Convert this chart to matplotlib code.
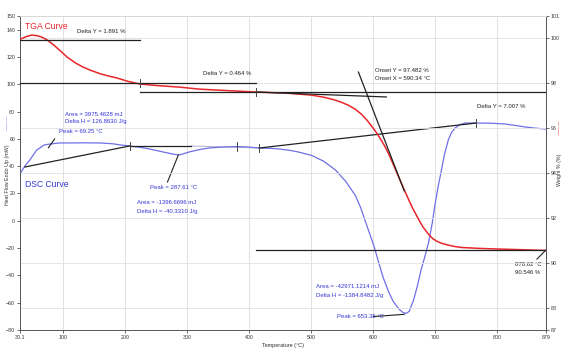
import matplotlib
matplotlib.use("Agg")
import matplotlib.pyplot as plt
from matplotlib import font_manager

names = {f.name for f in font_manager.fontManager.ttflist}
FAM = ['Liberation Sans Narrow', 'Liberation Sans'] if 'Liberation Sans Narrow' in names else ['Liberation Sans']

# ---------------- data ----------------
tga_T = [31, 40, 49, 58, 66, 74, 84, 95, 106, 120, 132, 143, 160, 175, 186, 205, 223,
         250, 287, 319, 360, 411, 460, 501, 520, 536, 548, 560, 571, 581, 590, 597, 605,
         612, 618, 624, 632, 640, 648.5, 656.6, 664, 672.6, 680, 688.7, 696, 703,
         710, 720, 732, 742, 770, 801, 840, 878.6]
tga_W = [99.97, 100.08, 100.15, 100.12, 100.05, 99.93, 99.72, 99.45, 99.17, 98.9, 98.72,
         98.59, 98.42, 98.31, 98.24, 98.08, 97.97, 97.9, 97.83, 97.74, 97.68, 97.61,
         97.56, 97.47, 97.38, 97.27, 97.16, 97.02, 96.84, 96.62, 96.35, 96.1, 95.8,
         95.5, 95.22, 94.9, 94.4, 93.88, 93.34, 92.84, 92.4, 91.96, 91.6, 91.28, 91.07,
         90.95, 90.87, 90.79, 90.72, 90.68, 90.64, 90.61, 90.58, 90.546]

dsc_T = [31, 38, 46, 57, 69, 78, 94, 106, 130, 159, 180, 191, 207, 224, 239, 255, 271,
         280, 285.5, 292, 303, 320, 335, 355, 380, 400, 416, 437, 450, 464, 480, 501, 520,
         539, 556, 571, 580, 587.5, 595, 602, 609, 616, 624, 632, 642, 648, 653.35, 658,
         665, 671, 677, 683, 689, 695, 700, 705, 710, 715, 721, 726, 732, 740, 748, 766,
         790, 812, 830, 845, 860, 878.6]
dsc_H = [35.0, 40.1, 44.5, 51.8, 55.5, 56.2, 57.0, 57.0, 57.1, 57.0, 56.4, 55.6, 54.8,
         53.8, 52.6, 51.0, 49.4, 48.6, 48.2, 48.8, 50.4, 52.2, 53.3, 54.0, 54.4, 54.0,
         53.3, 53.0, 52.5, 51.7, 50.3, 47.8, 43.6, 37.2, 28.6, 18.6, 9.2, -0.9, -10.5,
         -19.9, -31.0, -41.6, -51.2, -59.0, -65.0, -67.2, -67.8, -66.3, -58.0, -48.0,
         -36.1, -26.5, -16.3, -2.0, 13.0, 26.0, 37.2, 49.0, 59.2, 64.5, 68.0, 70.5, 71.6,
         71.6, 71.5, 70.9, 69.8, 68.7, 67.9, 67.2]

# TGA analysis lines (T, Weight %)
tga_lines = [
    ([30.1, 223], [99.93, 99.93]),
    ([30.1, 411], [98.0, 98.0]),
    ([223, 878.6], [97.61, 97.61]),
    ([411, 621], [97.61, 97.39]),
    ([576, 650], [98.5, 93.2]),
    ([411, 878.6], [90.57, 90.57]),
]
tga_ticks = [(223, 98.0), (411, 97.61)]

# DSC analysis lines (T, Heat flow mW)
dsc_lines = [
    ([38, 207], [39.4, 54.8]),
    ([207, 306], [54.8, 54.8]),
    ([416, 766], [53.3, 71.6]),
]
dsc_thin = ([306, 416], [54.8, 53.3])
dsc_ticks = [(207, 54.8), (380, 54.4), (416, 53.3), (766, 71.6)]

x_ticks = [30.1, 100, 200, 300, 400, 500, 600, 700, 800, 878.6]
x_ticklabels = ['30.1', '100', '200', '300', '400', '500', '600', '700', '800', '879']
left_ticks = [150, 140, 120, 100, 80, 60, 40, 20, 0, -20, -40, -60, -80]
right_ticks = [101, 100, 98, 96, 94, 92, 90, 88, 87]

RED = '#e8262a'
BLUE = '#6f6fe6'
BTXT = '#3535d8'

W, H = 574, 353
fig = plt.figure(figsize=(W / 100, H / 100), dpi=100)
L, R, T, B = 20, 546, 16, 330
ax = fig.add_axes([L / W, 1 - B / H, (R - L) / W, (B - T) / H])
ax2 = ax.twinx()

ax.set_xlim(30.1, 878.6)
ax.set_ylim(-80, 150)
ax2.set_ylim(87, 101)

# grid
for xv in x_ticks[1:-1]:
    ax.axvline(xv, color='#dcdcdc', lw=0.6, zorder=0)
for yv in right_ticks[1:-1]:
    ax2.axhline(yv, color='#e2e2e2', lw=0.6, zorder=0)

# DSC
ax.plot(dsc_T, dsc_H, color=BLUE, lw=0.9, zorder=3)
for xs, ys in dsc_lines:
    ax.plot(xs, ys, color='#222222', lw=0.9, zorder=4)
ax.plot(*dsc_thin, color='#b0b0c8', lw=0.7, zorder=2)
for xt, yt in dsc_ticks:
    ax.plot([xt, xt], [yt - 3, yt + 3], color='#444444', lw=0.7, zorder=5)

# TGA
ax2.plot(tga_T, tga_W, color=RED, lw=1.1, zorder=3)
for xs, ys in tga_lines:
    ax2.plot(xs, ys, color='#222222', lw=0.9, zorder=4)
for xt, yt in tga_ticks:
    ax2.plot([xt, xt], [yt - 0.18, yt + 0.18], color='#444444', lw=0.7, zorder=5)

# leader lines (DSC peaks / end point)
ax.plot([76, 86], [53.5, 60], color='#222222', lw=0.8, zorder=5)
ax.plot([285.5, 268], [48.2, 28.4], color='#222222', lw=0.8, zorder=5)
ax.plot([600, 650], [-70.2, -68.5], color='#222222', lw=0.8, zorder=5)
ax2.plot([878.6, 864], [90.57, 90.16], color='#222222', lw=0.8, zorder=5)

# axes styling
ax.set_xticks(x_ticks)
ax.set_xticklabels(x_ticklabels)
ax.set_yticks(left_ticks)
ax2.set_yticks(right_ticks)
for a in (ax, ax2):
    a.tick_params(labelsize=3.8, length=2, width=0.5, pad=1.5, colors='#333333')
    for s in a.spines.values():
        s.set_linewidth(0.6)
        s.set_color('#555555')
    a.spines['top'].set_color('#d8d8d8')
for lab in ax.get_xticklabels() + ax.get_yticklabels() + ax2.get_yticklabels():
    lab.set_family(FAM)

ax.set_xlabel('Temperature (°C)', fontsize=4, family=FAM, labelpad=2, color='#333333')

def px(x, y):
    return ((x - L) / (R - L), (B - y) / (B - T))

def txt(x, y, s, color='#222222', size=4.3, **kw):
    fx, fy = px(x, y)
    ax.text(fx, fy, s, transform=ax.transAxes, color=color, fontsize=size,
            family=FAM, va='center', ha='left', zorder=6, **kw)

txt(25, 27, 'TGA Curve', color=RED, size=6.2)
txt(25, 185, 'DSC Curve', color=BTXT, size=6.2)
txt(77, 32, 'Delta Y = 1.891 %')
txt(203, 74, 'Delta Y = 0.464 %')
txt(375, 71, 'Onset Y = 97.482 %')
txt(375, 79, 'Onset X = 590.34 °C')
txt(477, 107, 'Delta Y = 7.007 %')
txt(65, 115, 'Area = 3975.4628 mJ', color=BTXT)
txt(65, 122, 'Delta H = 126.8630 J/g', color=BTXT)
txt(59, 132, 'Peak = 69.25 °C', color=BTXT)
txt(150, 188, 'Peak = 287.61 °C', color=BTXT)
txt(137, 203, 'Area = -1396.6696 mJ', color=BTXT)
txt(137, 212, 'Delta H = -40.3310 J/g', color=BTXT)
txt(316, 287, 'Area = -42971.1214 mJ', color=BTXT)
txt(316, 296, 'Delta H = -1384.8482 J/g', color=BTXT)
txt(337, 316, 'Peak = 653.35 °C', color=BTXT)
txt(515, 264, '878.62 °C')
txt(515, 273, '90.546 %')

# axis labels
fig.text(8 / W, 1 - 175 / H, 'Heat Flow Endo Up (mW)', rotation=90, fontsize=3.8,
         family=FAM, ha='center', va='center', color='#333333')
fig.text(8 / W, 1 - 122 / H, '———', rotation=90, fontsize=3.8,
         ha='center', va='center', color=BLUE)
fig.text(560 / W, 1 - 170 / H, 'Weight % (%)', rotation=90, fontsize=3.8,
         family=FAM, ha='center', va='center', color='#333333')
fig.text(560 / W, 1 - 127 / H, '———', rotation=90, fontsize=3.8,
         ha='center', va='center', color=RED)

fig.savefig('out.png', dpi=100, facecolor='white')
